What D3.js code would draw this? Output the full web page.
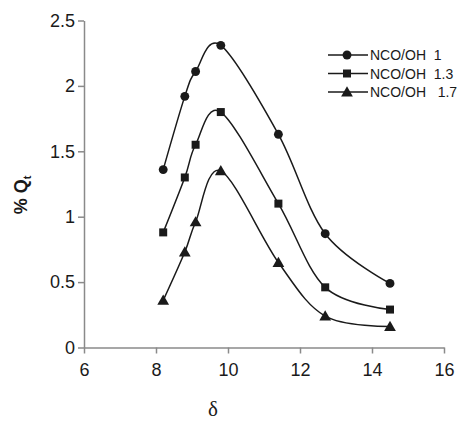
<!DOCTYPE html>
<html><head><meta charset="utf-8">
<script src="https://cdn.jsdelivr.net/npm/d3@7"></script>
<style>body{margin:0;background:#fff}svg{display:block}text{font-family:"Liberation Sans",Arial,sans-serif}</style>
</head><body><svg id="c" width="463" height="426"></svg>
<script>
const delta = [8.2, 8.8, 9.1, 9.8, 11.4, 12.7, 14.5];
const seriesNames = ["NCO/OH  1", "NCO/OH  1.3", "NCO/OH   1.7"];
const q1 = [1.36, 1.92, 2.11, 2.31, 1.63, 0.87, 0.49];
const q13 = [0.88, 1.30, 1.55, 1.80, 1.10, 0.46, 0.29];
const q17 = [0.36, 0.73, 0.96, 1.35, 0.65, 0.24, 0.16];
const xTicks = [6, 8, 10, 12, 14, 16];
const yTicks = [0, 0.5, 1, 1.5, 2, 2.5];

const svg = d3.select("#c");
const x = d3.scaleLinear().domain([6, 16]).range([84, 444]);
const y = d3.scaleLinear().domain([0, 2.5]).range([347.5, 20.5]);
const axisColor = "#8a8a8a", ink = "#1a1a1a";

const xa = svg.append("g").attr("transform", `translate(0,${y(0)})`)
  .call(d3.axisBottom(x).tickValues(xTicks).tickSize(6).tickSizeOuter(0).tickPadding(10).tickFormat(d3.format("d")));
const ya = svg.append("g").attr("transform", `translate(${x(6)},0)`)
  .call(d3.axisLeft(y).tickValues(yTicks).tickSize(6).tickSizeOuter(0).tickPadding(3).tickFormat(d => String(d)));
[xa, ya].forEach(a => {
  a.select(".domain").attr("stroke", axisColor).attr("stroke-width", 1.5);
  a.selectAll(".tick line").attr("stroke", axisColor).attr("stroke-width", 1.5);
  a.selectAll(".tick text").attr("fill", ink).style("font-size", "18px").style("font-family", '"Liberation Sans",Arial,sans-serif');
});

const data = [q1, q13, q17];
const symbols = [d3.symbolCircle, d3.symbolSquare, d3.symbolTriangle];
const symSize = [62, 64, 60];
const line = d3.line().x(d => x(d[0])).y(d => y(d[1])).curve(d3.curveCardinal.tension(0));

data.forEach((vals, i) => {
  const pts = delta.map((d, j) => [d, vals[j]]);
  svg.append("path").attr("d", line(pts)).attr("fill", "none").attr("stroke", ink).attr("stroke-width", 1.5);
  svg.append("g").selectAll("path").data(pts).join("path")
    .attr("transform", d => `translate(${x(d[0])},${y(d[1]) + (i === 2 ? 1 : 0)})`)
    .attr("d", d3.symbol().type(symbols[i]).size(symSize[i])).attr("fill", ink);
});

// legend
const lg = svg.append("g");
seriesNames.forEach((name, i) => {
  const yy = 55 + i * 18.5;
  lg.append("line").attr("x1", 328).attr("x2", 368).attr("y1", yy).attr("y2", yy).attr("stroke", ink).attr("stroke-width", 1.5);
  lg.append("path").attr("transform", `translate(347,${yy + (i === 2 ? 1 : 0)})`)
    .attr("d", d3.symbol().type(symbols[i]).size(symSize[i])).attr("fill", ink);
  lg.append("text").attr("x", 370).attr("y", yy + 5).attr("fill", ink).style("font-size", "14px")
    .attr("xml:space", "preserve").style("white-space", "pre").text(name);
});

// axis titles
const yt = svg.append("text").attr("transform", "translate(27,195) rotate(-90)").attr("text-anchor", "middle")
  .attr("fill", ink).style("font-size", "18px").style("font-weight", "bold");
yt.append("tspan").text("% Q");
yt.append("tspan").attr("dy", 4).style("font-size", "11px").text("t");

svg.append("text").attr("x", 213).attr("y", 416).attr("text-anchor", "middle").attr("fill", ink)
  .style("font-family", '"Liberation Serif","Times New Roman",serif').style("font-size", "21px").text("δ");
</script></body></html>
